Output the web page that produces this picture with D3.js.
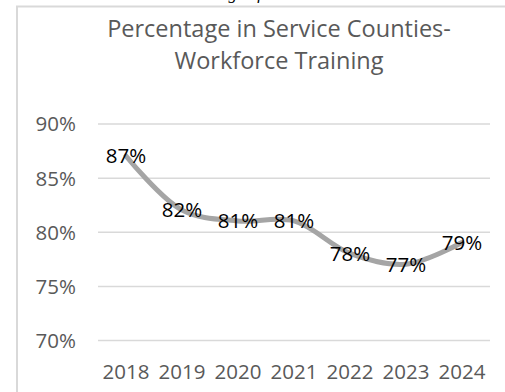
<!DOCTYPE html>
<html>
<head>
<meta charset="utf-8">
<script src="https://cdn.jsdelivr.net/npm/d3@7"></script>
<style>
  html, body { margin: 0; padding: 0; background: #fff; }
  svg { display: block; }
</style>
</head>
<body>
<script>
// Share of residents in service counties reached by workforce training
const years = ["2018", "2019", "2020", "2021", "2022", "2023", "2024"];
const shares = [0.87, 0.82, 0.81, 0.81, 0.78, 0.77, 0.79];
const yTicks = [0.70, 0.75, 0.80, 0.85, 0.90];
const titleLines = ["Percentage in Service Counties-", "Workforce Training"];

const W = 505, H = 392;
const font = "'Open Sans', sans-serif";
const plot = { left: 98, right: 490, top: 123.5, bottom: 340 };

const svg = d3.select("body").append("svg")
  .attr("width", W).attr("height", H);

// Caption line from the surrounding document, mostly above the frame
svg.append("text")
  .attr("x", 262).attr("y", -1)
  .attr("text-anchor", "end")
  .style("font-family", "'Liberation Serif', serif")
  .style("font-style", "italic")
  .style("font-size", "17px")
  .attr("fill", "#000")
  .text("Percentage of");

// Chart frame
svg.append("rect")
  .attr("x", 17).attr("y", 6.5)
  .attr("width", 600).attr("height", 500)
  .attr("fill", "#fff")
  .attr("stroke", "#d9d9d9")
  .attr("stroke-width", 2);

// Title
svg.append("g").selectAll("text")
  .data(titleLines)
  .join("text")
  .attr("x", 279)
  .attr("y", (d, i) => 37 + i * 32)
  .attr("text-anchor", "middle")
  .style("font-family", font)
  .style("font-size", "23.5px")
  .attr("fill", "#595959")
  .text(d => d);

const x = d3.scaleBand().domain(years).range([plot.left, plot.right]);
const y = d3.scaleLinear().domain([0.70, 0.90]).range([plot.bottom, plot.top]);

// Horizontal gridlines and percent labels
const yAxis = d3.axisLeft(y)
  .tickValues(yTicks)
  .tickFormat(d3.format(".0%"))
  .tickSize(-(plot.right - plot.left))
  .tickPadding(22);

const gy = svg.append("g")
  .attr("transform", `translate(${plot.left},0)`)
  .call(yAxis);
gy.select(".domain").remove();
gy.selectAll(".tick line").attr("stroke", "#d9d9d9").attr("stroke-width", 1.5);
gy.selectAll(".tick text")
  .style("font-family", font)
  .style("font-size", "20.5px")
  .attr("fill", "#595959")
  .attr("dy", "0.36em");

// Year labels
const xAxis = d3.axisBottom(x).tickSize(0).tickPadding(0);
const gx = svg.append("g")
  .attr("transform", `translate(0,${plot.bottom})`)
  .call(xAxis);
gx.select(".domain").remove();
gx.selectAll(".tick text")
  .attr("y", 39)
  .attr("dy", 0)
  .style("font-family", font)
  .style("font-size", "20.5px")
  .attr("fill", "#595959");

// Smoothed trend line
const cx = d => x(d) + x.bandwidth() / 2;
const line = d3.line()
  .x((d, i) => cx(years[i]))
  .y(d => y(d))
  .curve(d3.curveCatmullRom.alpha(0.5));

svg.append("path")
  .datum(shares)
  .attr("d", line)
  .attr("fill", "none")
  .attr("stroke", "#a5a5a5")
  .attr("stroke-width", 5)
  .attr("stroke-linecap", "round")
  .attr("stroke-linejoin", "round");

// Value labels centred on each point
svg.append("g").selectAll("text")
  .data(shares)
  .join("text")
  .attr("x", (d, i) => cx(years[i]))
  .attr("y", d => y(d))
  .attr("dy", "0.36em")
  .attr("text-anchor", "middle")
  .style("font-family", font)
  .style("font-size", "20.5px")
  .attr("fill", "#000")
  .text(d => d3.format(".0%")(d));
</script>
</body>
</html>
